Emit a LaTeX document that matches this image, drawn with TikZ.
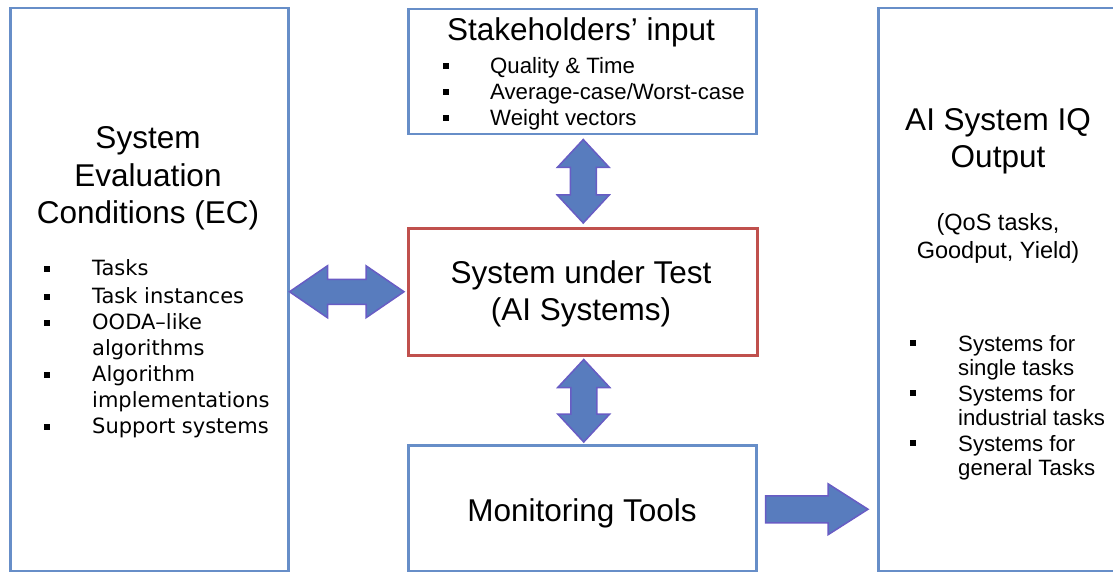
\documentclass[tikz,border=0pt]{standalone}
\usepackage{fontspec}
\setmainfont{Liberation Sans}
\newfontfamily\listfont{DejaVu Sans}
\usetikzlibrary{calc}
\definecolor{boxblue}{RGB}{103,142,200}
\definecolor{boxred}{RGB}{192,80,77}
\definecolor{arrfill}{RGB}{88,124,190}
\definecolor{arredge}{RGB}{104,92,196}
\tikzset{
 frame/.style={draw=boxblue, line width=2.5pt, inner sep=0pt, anchor=north west},
 redframe/.style={frame, draw=boxred},
 bigtxt/.style={font=\fontsize{31.5}{37}\selectfont, inner sep=0pt, anchor=base},
 midtxt/.style={font=\fontsize{23.5}{28}\selectfont, inner sep=0pt, anchor=base},
 smalltxt/.style={font=\fontsize{22.2}{26}\selectfont, inner sep=0pt, anchor=base west},
 ectxt/.style={font=\listfont\fontsize{21}{26}\selectfont, inner sep=0pt, anchor=base west},
 bul/.style={fill=black, minimum size=6.5pt, inner sep=0pt},
 fatarrow/.style={fill=arrfill, draw=arredge, line width=1.5pt, line join=miter},
}
\newcommand\vfat[2]{\draw[fatarrow] let \p1=(#1), \p2=(#2) in
 (\x1,\y1) -- (\x1+26pt,\y1-28pt) -- (\x1+13pt,\y1-28pt) -- (\x1+13pt,\y2+28pt)
 -- (\x1+26pt,\y2+28pt) -- (\x1,\y2) -- (\x1-26pt,\y2+28pt) -- (\x1-13pt,\y2+28pt)
 -- (\x1-13pt,\y1-28pt) -- (\x1-26pt,\y1-28pt) -- cycle;}
\newcommand\hfat[2]{\draw[fatarrow] let \p1=(#1), \p2=(#2) in
 (\x1,\y1) -- (\x1+38pt,\y1+26pt) -- (\x1+38pt,\y1+12.5pt) -- (\x2-38pt,\y1+12.5pt)
 -- (\x2-38pt,\y1+26pt) -- (\x2,\y1) -- (\x2-38pt,\y1-26pt) -- (\x2-38pt,\y1-12.5pt)
 -- (\x1+38pt,\y1-12.5pt) -- (\x1+38pt,\y1-26pt) -- cycle;}
\newcommand\rfat[2]{\draw[fatarrow] let \p1=(#1), \p2=(#2) in
 (\x1,\y1+13.5pt) -- (\x2-40pt,\y1+13.5pt) -- (\x2-40pt,\y1+25.5pt) -- (\x2,\y1)
 -- (\x2-40pt,\y1-25.5pt) -- (\x2-40pt,\y1-13.5pt) -- (\x1,\y1-13.5pt) -- cycle;}
\begin{document}
\begin{tikzpicture}[x=1pt,y=-1pt]
\useasboundingbox (0,0) rectangle (1113,572);
% boxes
\node[frame, minimum width=278pt, minimum height=563pt] (ec) at (9,7) {};
\node[frame, minimum width=348pt, minimum height=125pt] (stake) at (407,8) {};
\node[redframe, minimum width=349pt, minimum height=127pt] (sut) at (407,227) {};
\node[frame, minimum width=348pt, minimum height=126pt] (mon) at (407,444) {};
\node[frame, minimum width=260pt, minimum height=563pt] (iq) at (877,7) {};
% EC box text
\node[bigtxt] (ec1) at (148,149) {System};
\node[bigtxt] (ec2) at (148,186) {Evaluation};
\node[bigtxt] (ec3) at (148,223) {Conditions (EC)};
\node[bul] (eb1) at (47,269) {};
\node[bul] (eb2) at (47,297) {};
\node[bul] (eb3) at (47,323) {};
\node[bul] (eb4) at (47,375) {};
\node[bul] (eb5) at (47,427) {};
\node[ectxt] (el1) at (92,275) {Tasks};
\node[ectxt] (el2) at (92,303) {Task instances};
\node[ectxt] (el3) at (92,329) {OODA–like};
\node[ectxt] (el4) at (92,355) {algorithms};
\node[ectxt] (el5) at (92,381) {Algorithm};
\node[ectxt] (el6) at (92,407) {implementations};
\node[ectxt] (el7) at (92,433) {Support systems};
% stakeholders
\node[bigtxt] (st0) at (581,41) {Stakeholders’ input};
\node[bul] (sb1) at (446,66) {};
\node[bul] (sb2) at (446,92) {};
\node[bul] (sb3) at (446,118) {};
\node[smalltxt] (st1) at (490,74) {Quality \& Time};
\node[smalltxt] (st2) at (490,100) {Average-case/Worst-case};
\node[smalltxt] (st3) at (490,126) {Weight vectors};
% SUT
\node[bigtxt] (su1) at (581,283) {System under Test};
\node[bigtxt] (su2) at (581,320) {(AI Systems)};
% monitoring
\node[bigtxt] (mo1) at (582,521) {Monitoring Tools};
% IQ output
\node[bigtxt] (iq1) at (998,131) {AI System IQ};
\node[bigtxt] (iq2) at (998,168) {Output};
\node[midtxt] (iq3) at (998,230) {(QoS tasks,};
\node[midtxt] (iq4) at (998,258) {Goodput, Yield)};
\node[bul] (ib1) at (913,343) {};
\node[bul] (ib2) at (913,393) {};
\node[bul] (ib3) at (913,443) {};
\node[smalltxt] (il1) at (958,351) {Systems for};
\node[smalltxt] (il2) at (958,375) {single tasks};
\node[smalltxt] (il3) at (958,401) {Systems for};
\node[smalltxt] (il4) at (958,425) {industrial tasks};
\node[smalltxt] (il5) at (958,451) {Systems for};
\node[smalltxt] (il6) at (958,475) {general Tasks};
% arrows
\coordinate (a1) at ($(stake.south)+(1,4)$);
\coordinate (a2) at ($(sut.north)+(1,-4)$);
\vfat{a1}{a2}
\coordinate (a3) at ($(sut.south)+(1,3)$);
\coordinate (a4) at ($(mon.north)+(1,-2)$);
\vfat{a3}{a4}
\coordinate (a5) at (ec.east |- sut.west);
\coordinate (a6) at ($(sut.west)+(-3,0)$);
\hfat{a5}{a6}
\coordinate (a7) at ($(mon.east)+(8,1)$);
\coordinate (a8) at ($(iq.west |- mon.east)+(-9,0)$);
\rfat{a7}{a8}
\end{tikzpicture}
\end{document}
